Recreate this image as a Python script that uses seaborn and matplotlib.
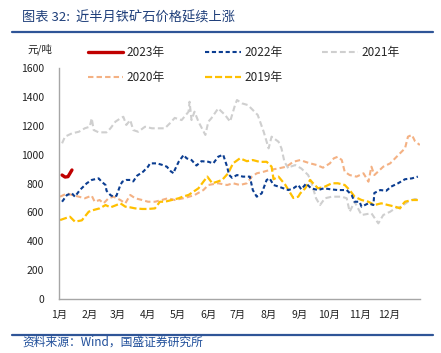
import numpy as np
import pandas as pd
import seaborn as sns
import matplotlib.pyplot as plt
from matplotlib.lines import Line2D

# day of year -> price (yuan / ton)
d2023 = [3, 6, 9, 11, 13]
v2023 = [859, 845, 848, 871, 894]

d2022 = [3, 8, 13, 16, 21, 28, 33, 40, 43, 47, 48, 52, 55, 58, 62, 64, 68, 72, 75, 79,
         85, 90, 92, 99, 104, 109, 113, 116, 117, 121, 126, 129, 134, 139, 144, 151, 156, 161, 166, 170,
         172, 175, 180, 186, 193, 196, 200, 205, 210, 213, 217, 222, 227, 232, 237, 242, 245, 250, 255, 262,
         268, 275, 282, 291, 296, 299, 304, 306, 313, 318, 319, 325, 331, 336, 343, 350, 357, 363]
v2022 = [674, 721, 732, 709, 755, 802, 825, 836, 813, 790, 750, 720, 709, 715, 790, 813, 825, 825, 815, 855,
         882, 917, 940, 940, 930, 917, 885, 871, 894, 951, 998, 975, 963, 925, 955, 951, 940, 986, 1000, 917,
         860, 840, 859, 848, 848, 755, 709, 732, 825, 836, 790, 779, 767, 755, 767, 790, 760, 800, 767, 755,
         767, 760, 755, 755, 721, 674, 674, 640, 663, 651, 735, 755, 750, 779, 802, 830, 836, 848]

d2021 = [3, 6, 13, 20, 26, 31, 33, 35, 40, 48, 52, 57, 62, 65, 68, 72, 75, 80, 87, 94,
         100, 107, 112, 117, 124, 131, 132, 134, 137, 141, 148, 151, 154, 161, 168, 173, 178, 180, 185, 191,
         196, 201, 207, 212, 215, 222, 225, 228, 232, 234, 239, 245, 252, 255, 260, 264, 269, 276, 286, 291,
         294, 299, 306, 316, 323, 328, 335, 340, 346, 353, 360, 365]
v2021 = [1079, 1125, 1148, 1159, 1183, 1194, 1252, 1171, 1155, 1155, 1183, 1229, 1252, 1263, 1206, 1240, 1171, 1159, 1194, 1183,
         1183, 1183, 1217, 1255, 1240, 1298, 1367, 1240, 1298, 1229, 1137, 1229, 1252, 1321, 1275, 1229, 1344, 1379, 1356, 1344,
         1310, 1275, 1159, 1044, 1125, 1090, 1044, 951, 905, 917, 928, 905, 859, 813, 698, 651, 698, 709, 709, 698,
         605, 674, 582, 594, 524, 582, 605, 628, 640, 674, 693, 686]

d2020 = [1, 8, 13, 20, 26, 33, 36, 41, 45, 50, 55, 62, 67, 72, 77, 84, 90, 97, 104, 110,
         117, 127, 137, 146, 151, 161, 170, 176, 183, 190, 195, 200, 207, 213, 222, 230, 237, 244, 249, 254,
         261, 267, 274, 278, 282, 286, 289, 294, 301, 308, 313, 316, 319, 328, 335, 340, 345, 350, 353, 357,
         360, 365]
v2020 = [709, 732, 721, 709, 698, 716, 674, 686, 663, 698, 709, 686, 663, 721, 698, 686, 674, 674, 686, 698,
         686, 700, 720, 755, 790, 802, 790, 802, 790, 802, 848, 871, 882, 894, 905, 917, 951, 963, 951, 940,
         928, 910, 940, 975, 986, 963, 882, 859, 848, 871, 813, 917, 859, 917, 940, 975, 1010, 1044, 1125, 1137,
         1095, 1067]

d2019 = [1, 6, 11, 16, 23, 30, 35, 41, 47, 52, 58, 62, 67, 72, 77, 84, 90, 97, 102, 107,
         114, 121, 125, 131, 136, 141, 146, 150, 155, 160, 165, 168, 171, 176, 183, 190, 196, 203, 210, 215,
         217, 222, 229, 237, 242, 244, 249, 254, 257, 262, 269, 276, 282, 289, 294, 299, 306, 313, 319, 326,
         333, 340, 345, 347, 350, 357, 363]
v2019 = [547, 559, 570, 536, 545, 605, 617, 628, 651, 635, 651, 663, 640, 635, 628, 624, 624, 628, 674, 674,
         686, 698, 709, 721, 744, 767, 813, 848, 802, 813, 825, 848, 871, 940, 975, 955, 963, 950, 951, 917,
         830, 848, 790, 700, 709, 732, 767, 825, 802, 767, 779, 802, 802, 790, 755, 709, 686, 674, 651, 663,
         651, 640, 628, 651, 674, 686, 686]

month_days = [0, 31, 59, 90, 120, 151, 181, 212, 243, 273, 304, 334]
month_labels = ["1月", "2月", "3月", "4月", "5月", "6月", "7月", "8月", "9月", "10月", "11月", "12月"]
y_ticks = [0, 200, 400, 600, 800, 1000, 1200, 1400, 1600]

sns.set_theme(style="white")
plt.rcParams['font.family'] = ['Noto Sans CJK SC', 'DejaVu Sans']

fig = plt.figure(figsize=(4.41, 3.53), dpi=100)
ax = fig.add_axes([0.134, 0.153, 0.818, 0.654])

# (label, days, values, colour, width, dash)
series = [
    ("2021年", d2021, v2021, "#CFCFCF", 1.5, (0, (2.8, 1.5))),
    ("2020年", d2020, v2020, "#F4B183", 1.5, (0, (2.6, 1.5))),
    ("2019年", d2019, v2019, "#FFC000", 1.6, (0, (3.2, 1.3))),
    ("2022年", d2022, v2022, "#0B3D91", 1.5, (0, (2.0, 1.3))),
    ("2023年", d2023, v2023, "#C00000", 2.4, "-"),
]
handles = {}
for lab, dd, vv, col, lw, ls in series:
    df = pd.DataFrame({"day": dd, "price": vv})
    sns.lineplot(data=df, x="day", y="price", ax=ax, color=col, linewidth=lw,
                 linestyle=ls, label=lab, legend=False)
    handles[lab] = ax.lines[-1]

ax.set_xlim(0, 365)
ax.set_ylim(0, 1600)
ax.set_xticks(month_days)
ax.set_xticklabels(month_labels)
ax.set_yticks(y_ticks)
ax.set_xlabel("")
ax.set_ylabel("")
ax.tick_params(axis="both", length=0, labelsize=7.5, colors="#222222")
ax.tick_params(axis="y", pad=11)
ax.tick_params(axis="x", pad=8)
for s in ["top", "right"]:
    ax.spines[s].set_visible(False)
for s in ["left", "bottom"]:
    ax.spines[s].set_color("#A6A6A6")
    ax.spines[s].set_linewidth(1.0)

order = ["2023年", "2020年", "2022年", "2019年", "2021年"]
fig.legend([handles[k] for k in order], order, loc="upper left",
           bbox_to_anchor=(0.199, 0.870), ncol=3, frameon=False, fontsize=8.5,
           handlelength=3.0, handletextpad=0.3, columnspacing=3.4,
           labelspacing=1.05, borderpad=0, borderaxespad=0)

fig.text(0.062, 0.861, "元/吨", fontsize=7.5, color="#222222", va="center")

fig.text(0.05, 1 - 18 / 353, "图表 32:  近半月铁矿石价格延续上涨", fontsize=9.5,
         color="#1F3F7A", va="center", style="italic")
fig.add_artist(Line2D([12 / 441, 433 / 441], [1 - 31.7 / 353] * 2, color="#2F5597", linewidth=1.6))
fig.add_artist(Line2D([12 / 441, 433 / 441], [1 - 335 / 353] * 2, color="#2F5597", linewidth=1.6))
fig.text(0.052, 1 - 342.5 / 353, "资料来源：Wind，国盛证券研究所", fontsize=8.5,
         color="#1F4E9A", va="center", style="italic")

fig.savefig("out.png", dpi=100)
